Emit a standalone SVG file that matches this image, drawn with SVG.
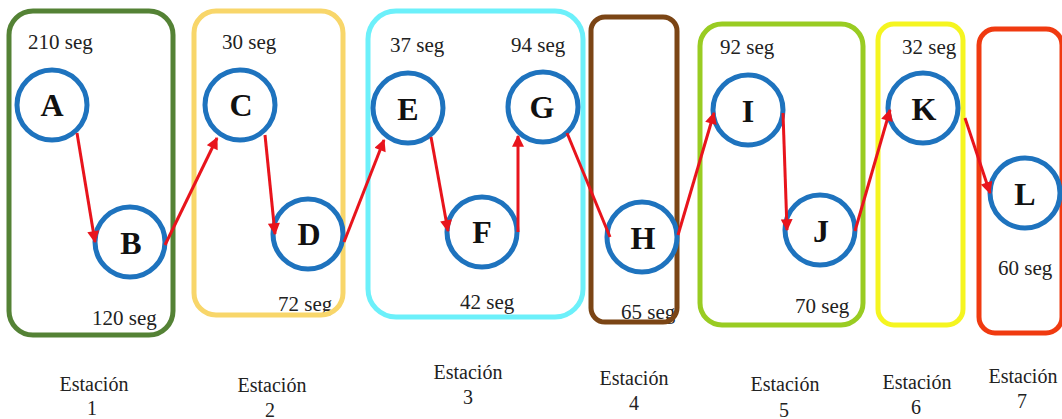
<svg xmlns="http://www.w3.org/2000/svg" width="1062" height="419" viewBox="0 0 1062 419">
<style>
.box{fill:none;stroke-width:5}
.node circle{fill:#fff;stroke:#1E73BE;stroke-width:5}
.node text{font-weight:bold;font-size:32px;text-anchor:middle;fill:#111}
#connectors line{stroke:#E8141C;stroke-width:3}
</style>
<defs>
<marker id="ah" viewBox="0 0 10 10" refX="9" refY="5" markerWidth="4.5" markerHeight="4" orient="auto" markerUnits="strokeWidth">
<path d="M0,0 L10,5 L0,10 z" fill="#E8141C"/>
</marker>
</defs>
<rect fill="#fff" width="1062" height="419"/>
<g id="times" font-family="'Liberation Serif', 'DejaVu Serif', serif" font-size="21" fill="#222">
<text x="28" y="49">210 seg</text>
<text x="92" y="325">120 seg</text>
<text x="222" y="49">30 seg</text>
<text x="278" y="311">72 seg</text>
<text x="390" y="52">37 seg</text>
<text x="511" y="52">94 seg</text>
<text x="460" y="309">42 seg</text>
<text x="621" y="319">65 seg</text>
<text x="720" y="54">92 seg</text>
<text x="902" y="54">32 seg</text>
<text x="795" y="313">70 seg</text>
<text x="998" y="275">60 seg</text>
</g>
<g id="stations">
<rect class="box" x="9" y="11" width="164" height="324" rx="24" stroke="#548235"/>
<rect class="box" x="194" y="11" width="149" height="304" rx="22" stroke="#F8D66A"/>
<rect class="box" x="368" y="11" width="215" height="306" rx="28" stroke="#6CF0FA"/>
<rect class="box" x="591" y="17" width="86" height="305" rx="14" stroke="#7B4515"/>
<rect class="box" x="700" y="24" width="163" height="301" rx="22" stroke="#99CC22"/>
<rect class="box" x="878" y="24" width="85" height="301" rx="16" stroke="#F5F520"/>
<rect class="box" x="979" y="29" width="83" height="304" rx="16" stroke="#F03A10"/>
</g>
<g id="nodes" font-family="'Liberation Serif', 'DejaVu Serif', serif">
<g id="A" class="node"><circle cx="52" cy="105" r="35"/><text x="52" y="116">A</text></g>
<g id="B" class="node"><circle cx="130" cy="242" r="35"/><text x="131" y="254">B</text></g>
<g id="C" class="node"><circle cx="240" cy="105" r="35"/><text x="241" y="116">C</text></g>
<g id="D" class="node"><circle cx="308" cy="234" r="35"/><text x="309" y="245">D</text></g>
<g id="E" class="node"><circle cx="408" cy="108" r="35"/><text x="408" y="120">E</text></g>
<g id="F" class="node"><circle cx="482" cy="232" r="35"/><text x="482" y="243">F</text></g>
<g id="G" class="node"><circle cx="543" cy="107" r="35"/><text x="542" y="118">G</text></g>
<g id="H" class="node"><circle cx="642" cy="237" r="35"/><text x="643" y="249">H</text></g>
<g id="I" class="node"><circle cx="748" cy="110" r="35"/><text x="748" y="122">I</text></g>
<g id="J" class="node"><circle cx="820" cy="230" r="35"/><text x="821" y="242">J</text></g>
<g id="K" class="node"><circle cx="923" cy="108" r="35"/><text x="924" y="120">K</text></g>
<g id="L" class="node"><circle cx="1025" cy="193" r="35"/><text x="1025" y="205">L</text></g>
</g>
<g id="connectors">
<line x1="77" y1="133" x2="95" y2="242" marker-end="url(#ah)"/>
<line x1="165" y1="245" x2="217" y2="138" marker-end="url(#ah)"/>
<line x1="265" y1="135" x2="275" y2="234" marker-end="url(#ah)"/>
<line x1="344" y1="242" x2="384" y2="140" marker-end="url(#ah)"/>
<line x1="431" y1="137" x2="448" y2="231" marker-end="url(#ah)"/>
<line x1="518" y1="232" x2="518" y2="136" marker-end="url(#ah)"/>
<line x1="567" y1="133" x2="610" y2="237"/>
<line x1="678" y1="235" x2="714" y2="113" marker-end="url(#ah)"/>
<line x1="783" y1="113" x2="787" y2="230" marker-end="url(#ah)"/>
<line x1="855" y1="231" x2="890" y2="110" marker-end="url(#ah)"/>
<line x1="965" y1="118" x2="990" y2="193" marker-end="url(#ah)"/>
</g>
<g id="labels" font-family="'Liberation Serif', 'DejaVu Serif', serif" font-size="20" fill="#222" text-anchor="middle">
<text x="94" y="391">Estación</text><text x="92" y="415">1</text>
<text x="272" y="392">Estación</text><text x="270" y="417">2</text>
<text x="468" y="379">Estación</text><text x="468" y="404">3</text>
<text x="634" y="385">Estación</text><text x="634" y="410">4</text>
<text x="785" y="391">Estación</text><text x="784" y="417">5</text>
<text x="917" y="389">Estación</text><text x="916" y="414">6</text>
<text x="1023" y="383">Estación</text><text x="1022" y="408">7</text>
</g>
</svg>
